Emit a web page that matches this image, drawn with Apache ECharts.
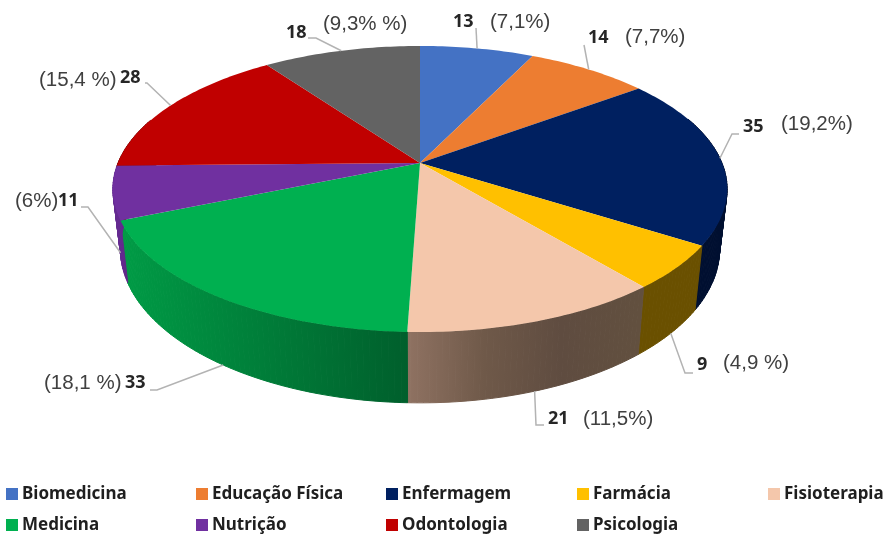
<!DOCTYPE html>
<html>
<head>
  <meta charset="utf-8">
  <title>Cursos</title>
  <style>html,body{margin:0;background:#fff}</style>
</head>
<body>
  <div id="main" style="width:888px;height:536px;"></div>
  <script src="https://cdn.jsdelivr.net/npm/echarts@6/dist/echarts.min.js"></script>
  <script>
const categories = ['Biomedicina', 'Educação Física', 'Enfermagem', 'Farmácia', 'Fisioterapia', 'Medicina', 'Nutrição', 'Odontologia', 'Psicologia'];
const counts = [13, 14, 35, 9, 21, 33, 11, 28, 18];
const percentLabels = ['(7,1%)', '(7,7%)', '(19,2%)', '(4,9 %)', '(11,5%)', '(18,1 %)', '(6%)', '(15,4 %)', '(9,3% %)'];

const topColors = ['#4472C4', '#ED7D31', '#002060', '#FFC000', '#F4C7AB', '#00B050', '#7030A0', '#C00000', '#636363'];
// side wall shading, left to right
const wallColors = [
  ['#2a4a80', '#2a4a80'], ['#8a4a1c', '#8a4a1c'], ['#000f30', '#000f30'], ['#6a5000', '#6a5000'],
  ['#8f7262', '#6f5949', '#5f4c40', '#62503f'], ['#009a45', '#005f2c'], ['#642a90', '#5e2785'], ['#800000', '#800000'], ['#404040', '#404040']
];

// the pie disk is a circle under perspective, top face and bottom face
const topFace = { cx: 420, cy: 163, a: 302, b: 138.3 };
const bottomFace = { cx: 420, cy: 221, a: 294.6, b: 148.8 };
const persp = 0.1818;

// callouts: [elbow x, elbow y] list after the rim point, then text spots [x, y]
const leaderBends = [
  [[476, 28]], [[584, 45]], [[732, 134], [739, 134]], [[685, 373], [693, 373]], [[536, 425], [544, 425]],
  [[157, 390], [150, 390]], [[88, 207], [81, 207]], [[147, 83], [145, 83]], [[316, 38], [308, 38]]
];
const leaderOnBottom = [false, false, false, true, true, true, true, false, false];
const countSpots = [[453, 22], [588, 38], [743, 127], [697, 365], [548, 419], [125, 383], [58, 201], [120, 78], [286, 33]];
const percentSpots = [[490, 22], [625, 37], [781, 124], [723, 363], [583, 419], [44, 383], [15, 201], [39, 80], [323, 24]];

const total = counts.reduce((s, v) => s + v, 0);

function rim(face, deg) {
  const t = deg * Math.PI / 180;
  const u = Math.sin(t), v = -Math.cos(t);
  const w = 1 - persp * v;
  return [face.cx + face.a * u / w, face.cy + face.b * v / w];
}

function renderSlice(index) {
  return function () {
    const before = counts.slice(0, index).reduce((s, v) => s + v, 0);
    const start = before / total * 360;
    const end = (before + counts[index]) / total * 360;
    const children = [];

    const angles = [];
    for (let d = start; d < end; d += 1) angles.push(d);
    angles.push(end);

    // wall: small quads so the silhouette between the two faces stays filled
    const front = angles.filter(d => d > 70 && d < 290);
    if (front.length > 1) {
      const xs = front.map(d => rim(bottomFace, d)[0]);
      const shades = wallColors[index];
      const fill = {
        type: 'linear', global: true,
        x: Math.min(...xs), y: 0, x2: Math.max(...xs), y2: 0,
        colorStops: shades.map((c, i) => ({ offset: i / (shades.length - 1), color: c }))
      };
      for (let i = 0; i < front.length - 1; i++) {
        children.push({
          type: 'polygon', z2: 1,
          shape: { points: [rim(topFace, front[i]), rim(topFace, front[i + 1]), rim(bottomFace, front[i + 1]), rim(bottomFace, front[i])] },
          style: { fill: fill, stroke: fill, lineWidth: 1 }
        });
      }
    }

    children.push({
      type: 'polygon', z2: 2,
      shape: { points: [[topFace.cx, topFace.cy]].concat(angles.map(d => rim(topFace, d))) },
      style: { fill: topColors[index] }
    });

    const mid = (start + end) / 2;
    const anchor = rim(leaderOnBottom[index] ? bottomFace : topFace, mid);
    children.push({
      type: 'polyline', z2: 3,
      shape: { points: [anchor].concat(leaderBends[index]) },
      style: { fill: null, stroke: '#b3b3b3', lineWidth: 1.5 }
    });
    children.push({
      type: 'text', z2: 4,
      style: {
        x: countSpots[index][0], y: countSpots[index][1], text: String(counts[index]),
        fontFamily: 'Noto Sans', fontWeight: 'bold', fontSize: 18, fill: '#262626', verticalAlign: 'middle'
      }
    });
    children.push({
      type: 'text', z2: 4,
      style: {
        x: percentSpots[index][0], y: percentSpots[index][1], text: percentLabels[index],
        fontFamily: 'Liberation Sans', fontSize: 20.5, fill: '#404040', verticalAlign: 'middle'
      }
    });
    return { type: 'group', children: children };
  };
}

// five legend columns, filled top to bottom
const legendColumns = [
  { left: 6, names: [0, 5] }, { left: 196, names: [1, 6] }, { left: 386, names: [2, 7] },
  { left: 577, names: [3, 8] }, { left: 768, names: [4] }
];

let myChart = echarts.init(document.querySelector('#main'));
let option = {
  animation: false,
  legend: legendColumns.map(c => ({
    left: c.left, top: 483, padding: 0, orient: 'vertical',
    itemWidth: 12, itemHeight: 12, itemGap: 9, selectedMode: false,
    icon: 'rect',
    textStyle: { fontFamily: 'Noto Sans', fontWeight: 'bold', fontSize: 17, color: '#1f1f1f', lineHeight: 22, padding: [0, 0, 0, -1] },
    data: c.names.map(i => categories[i])
  })),
  series: categories.map((name, i) => ({
    type: 'custom',
    name: name,
    coordinateSystem: 'none',
    silent: true,
    clip: false,
    itemStyle: { color: topColors[i] },
    data: [counts[i]],
    renderItem: renderSlice(i)
  }))
};
myChart.setOption(option);
  </script>
</body>
</html>
